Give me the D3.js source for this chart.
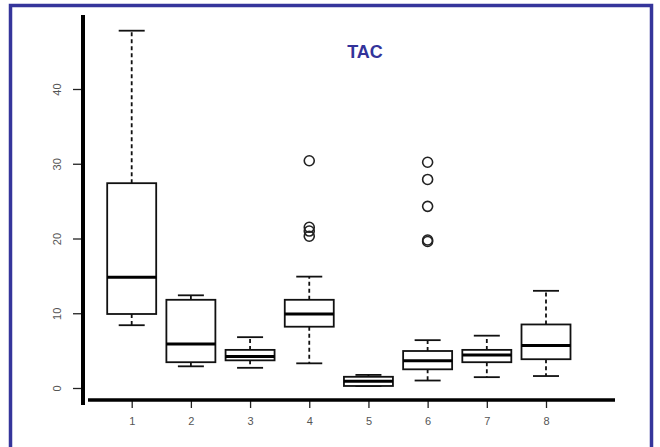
<!DOCTYPE html>
<html>
<head>
<meta charset="utf-8">
<script src="https://cdn.jsdelivr.net/npm/d3@7"></script>
<style>
html,body{margin:0;padding:0;background:#fff;}
svg{display:block;}
</style>
</head>
<body>
<svg id="chart" width="660" height="447"></svg>
<script>
const categories = ["1","2","3","4","5","6","7","8"];
const lowerWhisker = [8.4, 2.9, 2.7, 3.3, 0.25, 1.0, 1.45, 1.6];
const q1 = [9.9, 3.45, 3.7, 8.2, 0.27, 2.5, 3.45, 3.85];
const median = [14.8, 5.9, 4.2, 9.9, 0.9, 3.65, 4.4, 5.7];
const q3 = [27.4, 11.8, 5.1, 11.8, 1.5, 4.95, 5.1, 8.5];
const upperWhisker = [47.8, 12.4, 6.8, 14.9, 1.75, 6.4, 7.0, 13.0];
const outliers = [[], [], [], [30.4, 21.5, 21.0, 20.3], [], [30.2, 27.9, 24.3, 19.8, 19.6], [], []];
const yTicks = [0, 10, 20, 30, 40];
const title = "TAC";

const svg = d3.select("#chart");

// frame
svg.append("path")
  .attr("d", "M10.5,447 V5.5 H651.5 V447")
  .attr("fill", "none").attr("stroke", "#35359b").attr("stroke-width", 3.5);

const y = d3.scaleLinear().domain([0, 40]).range([388, 89]);
const x = d3.scalePoint().domain(categories).range([131.7, 546]);

const boxW = 49, capW = 26;

// y axis
const yAxis = svg.append("g").attr("transform", "translate(83,0)")
  .call(d3.axisLeft(y).tickValues(yTicks).tickSize(10).tickPadding(0).tickFormat(d3.format("d")));
yAxis.select(".domain").remove();
yAxis.selectAll(".tick line").attr("stroke", "#222").attr("stroke-width", 1.3);
yAxis.selectAll(".tick text")
  .attr("x", 0).attr("dy", null)
  .attr("transform", "translate(-26,0) rotate(-90)")
  .attr("text-anchor", "middle").attr("dominant-baseline", "central")
  .attr("fill", "#555").attr("font-size", 11).attr("font-family", "Liberation Sans, Arial, sans-serif");
svg.append("line").attr("x1", 83).attr("x2", 83).attr("y1", 15).attr("y2", 405)
  .attr("stroke", "#000").attr("stroke-width", 4);

// x axis
const xAxis = svg.append("g").attr("transform", "translate(0,400)")
  .call(d3.axisBottom(x).tickSize(8).tickPadding(9));
xAxis.select(".domain").remove();
xAxis.selectAll(".tick line").attr("stroke", "#222").attr("stroke-width", 1.3);
xAxis.selectAll(".tick text")
  .attr("fill", "#555").attr("font-size", 11).attr("font-family", "Liberation Sans, Arial, sans-serif");
svg.append("line").attr("x1", 88).attr("x2", 615).attr("y1", 400).attr("y2", 400)
  .attr("stroke", "#000").attr("stroke-width", 3.5);

// boxes
const data = categories.map((c, i) => ({
  c, lw: lowerWhisker[i], q1: q1[i], med: median[i], q3: q3[i], uw: upperWhisker[i], out: outliers[i]
}));

const g = svg.append("g");
const b = g.selectAll("g.box").data(data).join("g").attr("class", "box");

// whiskers
b.append("line").attr("x1", d => x(d.c)).attr("x2", d => x(d.c))
  .attr("y1", d => y(d.q3)).attr("y2", d => y(d.uw))
  .attr("stroke", "#111").attr("stroke-width", 1.8).attr("stroke-dasharray", "4,3");
b.append("line").attr("x1", d => x(d.c)).attr("x2", d => x(d.c))
  .attr("y1", d => y(d.q1)).attr("y2", d => y(d.lw))
  .attr("stroke", "#111").attr("stroke-width", 1.8).attr("stroke-dasharray", "4,3");
// caps
b.append("line").attr("x1", d => x(d.c) - capW / 2).attr("x2", d => x(d.c) + capW / 2)
  .attr("y1", d => y(d.uw)).attr("y2", d => y(d.uw))
  .attr("stroke", "#111").attr("stroke-width", 1.8);
b.append("line").attr("x1", d => x(d.c) - capW / 2).attr("x2", d => x(d.c) + capW / 2)
  .attr("y1", d => y(d.lw)).attr("y2", d => y(d.lw))
  .attr("stroke", "#111").attr("stroke-width", 1.8);
// box
b.append("rect").attr("x", d => x(d.c) - boxW / 2).attr("width", boxW)
  .attr("y", d => y(d.q3)).attr("height", d => y(d.q1) - y(d.q3))
  .attr("fill", "#fff").attr("stroke", "#111").attr("stroke-width", 1.8);
// median
b.append("line").attr("x1", d => x(d.c) - boxW / 2).attr("x2", d => x(d.c) + boxW / 2)
  .attr("y1", d => y(d.med)).attr("y2", d => y(d.med))
  .attr("stroke", "#000").attr("stroke-width", 3);
// outliers
b.selectAll("circle").data(d => d.out.map(v => ({ c: d.c, v }))).join("circle")
  .attr("cx", d => x(d.c)).attr("cy", d => y(d.v)).attr("r", 5)
  .attr("fill", "none").attr("stroke", "#222").attr("stroke-width", 1.6);

// title
svg.append("text").attr("x", 365).attr("y", 58).attr("text-anchor", "middle")
  .attr("font-family", "Liberation Sans, Arial, sans-serif").attr("font-weight", "bold")
  .attr("font-size", 18).attr("fill", "#33339a").text(title);
</script>
</body>
</html>
